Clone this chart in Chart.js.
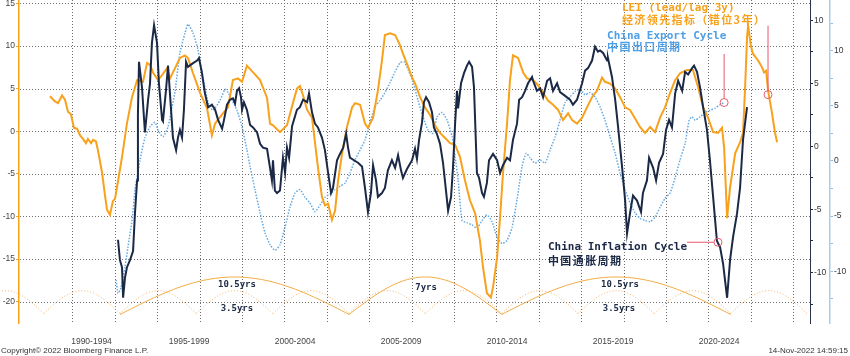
<!DOCTYPE html>
<html><head><meta charset="utf-8">
<script src="https://cdn.jsdelivr.net/npm/chart.js@4.4.0/dist/chart.umd.min.js"></script>
<style>html,body{margin:0;padding:0;background:#fff;}#wrap{width:850px;height:356px;}</style>
</head><body><div id="wrap"><canvas id="c" width="850" height="356"></canvas></div>
<script>
// ---------- DATA ----------
const leiYears = [1990.94,1991.18,1991.32,1991.51,1991.65,1991.79,1991.93,1992.07,1992.22,1992.36,1992.50,1992.64,1992.73,1992.88,1992.97,1993.11,1993.21,1993.40,1993.54,1993.63,1993.77,1993.91,1994.01,1994.10,1994.34,1994.57,1994.81,1995.05,1995.33,1995.52,1995.66,1995.80,1996.04,1996.23,1996.46,1996.60,1996.84,1997.07,1997.31,1997.45,1997.69,1998.02,1998.35,1998.58,1998.73,1999.10,1999.34,1999.57,1999.81,2000.00,2000.23,2000.52,2000.85,2001.18,2001.32,2001.46,2001.79,2002.12,2002.40,2002.59,2002.73,2002.88,2003.07,2003.30,2003.58,2003.77,2003.91,2004.06,2004.24,2004.39,2004.53,2004.72,2004.95,2005.19,2005.33,2005.57,2005.80,2005.94,2006.18,2006.41,2006.60,2006.74,2006.98,2007.22,2007.45,2007.59,2007.78,2008.02,2008.16,2008.40,2008.63,2008.87,2009.10,2009.34,2009.58,2009.81,2010.05,2010.28,2010.52,2010.75,2010.99,2011.22,2011.37,2011.55,2011.74,2011.84,2012.03,2012.17,2012.31,2012.50,2012.64,2012.78,2013.02,2013.26,2013.44,2013.73,2013.96,2014.20,2014.43,2014.67,2014.91,2015.14,2015.38,2015.57,2015.80,2016.04,2016.27,2016.51,2016.75,2016.98,2017.12,2017.36,2017.60,2017.83,2018.07,2018.30,2018.54,2018.77,2019.01,2019.25,2019.48,2019.72,2019.95,2020.19,2020.43,2020.66,2020.99,2021.27,2021.51,2021.75,2021.98,2022.22,2022.45,2022.64,2022.74,2022.88,2023.02,2023.26,2023.49,2023.63,2023.73,2023.82,2023.87,2024.01,2024.10,2024.34,2024.53,2024.62,2024.72,2024.81,2025.00,2025.14,2025.24];
const leiValues = [4.1,3.5,3.3,4.2,3.7,2.3,2.0,0.4,0.3,-0.5,-0.9,-1.4,-0.9,-1.4,-1.0,-1.2,-2.3,-4.9,-7.6,-9.2,-9.8,-8.2,-7.9,-6.6,-3.0,0.9,4.0,6.0,5.8,8.0,7.8,6.9,6.0,6.6,7.4,6.2,7.4,8.6,8.9,8.6,6.8,4.5,2.7,-0.5,0.9,2.1,2.8,6.0,6.2,5.8,7.7,6.9,6.0,3.9,0.9,0.7,-0.1,0.7,3.3,5.0,5.3,4.2,2.5,1.6,-4.2,-7.7,-8.7,-8.5,-10.4,-9.3,-5.8,-2.6,0.5,2.8,3.3,3.1,0.9,0.4,1.6,4.8,8.3,11.3,11.5,11.3,10.1,9.1,7.9,6.3,5.6,4.0,2.8,1.9,0.7,-0.2,-0.8,-1.4,-1.6,-3.0,-5.8,-8.1,-9.6,-12.8,-16.0,-19.0,-19.5,-18.3,-14.8,-10.1,-4.9,0.9,6.0,8.9,8.6,6.9,6.2,6.0,5.4,4.5,3.6,3.1,2.5,1.3,2.1,1.3,0.9,1.6,2.8,4.0,4.8,6.3,5.8,5.6,5.0,4.0,2.8,2.5,1.5,0.5,-0.2,0.5,-0.1,1.6,2.8,4.5,6.0,6.8,7.2,7.2,5.2,2.8,1.6,-0.1,-0.2,0.4,-1.9,-10.2,-6.6,-2.6,-1.3,-0.2,5.2,11.0,12.4,9.9,9.1,8.3,7.5,6.9,7.1,4.8,2.1,-0.2,-1.3];

const inflYears = [1994.15,1994.24,1994.34,1994.39,1994.48,1994.57,1994.72,1994.86,1994.95,1995.05,1995.09,1995.14,1995.28,1995.42,1995.57,1995.66,1995.75,1995.85,1995.99,1996.08,1996.23,1996.27,1996.41,1996.51,1996.60,1996.74,1996.89,1996.98,1997.07,1997.17,1997.26,1997.36,1997.45,1997.69,1997.88,1997.97,1998.11,1998.25,1998.40,1998.58,1998.73,1998.87,1999.06,1999.15,1999.29,1999.43,1999.57,1999.67,1999.76,1999.86,1999.95,2000.00,2000.09,2000.23,2000.38,2000.52,2000.71,2000.85,2000.99,2001.18,2001.32,2001.41,2001.46,2001.55,2001.65,2001.79,2001.93,2002.03,2002.12,2002.22,2002.36,2002.59,2002.73,2002.88,2003.07,2003.16,2003.30,2003.44,2003.58,2003.77,2003.91,2004.06,2004.20,2004.29,2004.48,2004.62,2004.77,2004.91,2005.00,2005.09,2005.28,2005.47,2005.66,2005.80,2005.94,2006.08,2006.18,2006.32,2006.41,2006.60,2006.74,2006.88,2007.07,2007.22,2007.36,2007.50,2007.59,2007.78,2008.02,2008.16,2008.25,2008.35,2008.49,2008.58,2008.68,2008.82,2008.96,2009.05,2009.19,2009.34,2009.48,2009.62,2009.72,2009.86,2009.95,2010.05,2010.14,2010.19,2010.33,2010.47,2010.61,2010.71,2010.85,2010.94,2011.08,2011.18,2011.32,2011.41,2011.55,2011.65,2011.84,2012.03,2012.17,2012.31,2012.50,2012.64,2012.78,2012.97,2013.07,2013.21,2013.35,2013.49,2013.68,2013.73,2013.91,2014.06,2014.20,2014.39,2014.53,2014.67,2014.86,2015.00,2015.24,2015.47,2015.61,2015.80,2016.04,2016.18,2016.32,2016.51,2016.65,2016.79,2016.89,2017.03,2017.22,2017.26,2017.45,2017.60,2017.74,2017.93,2018.07,2018.16,2018.30,2018.44,2018.63,2018.82,2018.91,2019.10,2019.20,2019.39,2019.53,2019.67,2019.86,2020.00,2020.14,2020.28,2020.43,2020.57,2020.76,2020.90,2021.04,2021.23,2021.32,2021.46,2021.60,2021.75,2021.93,2022.07,2022.22,2022.40,2022.55,2022.69,2022.88,2023.02,2023.16,2023.35,2023.49,2023.63,2023.82];
const inflValues = [-7.4,-9.0,-9.6,-12.0,-10.4,-9.6,-9.0,-8.3,-5.3,-2.7,2.6,6.7,4.7,1.1,3.7,5.0,8.2,9.6,8.2,5.0,2.1,2.0,4.4,6.4,4.2,0.7,-0.3,0.7,1.3,0.7,2.9,6.7,6.3,6.6,6.8,7.0,5.8,4.2,3.1,3.3,2.9,2.1,1.4,2.1,3.3,3.7,3.8,3.4,4.4,4.6,3.9,2.9,3.5,2.9,1.7,1.5,1.1,0.2,-0.1,-0.2,-1.7,-2.7,-1.1,-3.5,-3.7,-3.5,-0.9,-2.1,-0.1,-0.9,1.6,2.9,3.1,3.7,3.5,4.2,2.7,1.8,1.5,0.7,-0.3,-2.1,-3.7,-3.3,-1.1,-0.6,-0.1,1.0,-0.1,-0.9,-1.1,-1.3,-1.6,-3.3,-5.2,-3.7,-1.5,-2.7,-4.0,-3.7,-3.3,-1.9,-1.1,-1.7,-0.7,-1.9,-2.5,-1.8,-1.1,-0.2,-1.0,0.5,1.9,3.5,3.9,3.5,2.7,1.5,1.0,0.2,-1.3,-3.5,-5.1,-4.0,-1.7,1.8,4.4,3.0,5.0,5.8,6.4,6.7,6.3,4.7,-2.1,-2.5,-3.7,-4.0,-2.9,-1.1,-0.6,-1.1,-2.1,-1.5,-0.9,-1.1,0.5,1.8,3.7,3.9,4.4,5.0,5.5,5.2,4.4,4.6,3.9,5.2,5.4,4.4,5.0,4.3,4.0,3.7,3.3,3.7,5.0,6.0,6.2,6.8,7.9,7.5,7.6,7.4,6.8,7.0,5.5,3.7,1.5,-1.7,-4.3,-6.9,-5.3,-3.9,-4.3,-5.2,-3.7,-2.7,-0.9,-1.7,-2.7,-1.3,-0.6,1.3,2.1,1.5,4.2,5.2,4.4,5.9,5.7,6.2,6.4,5.9,4.7,3.1,1.3,-1.1,-4.0,-7.5,-8.0,-9.3,-12.0,-9.0,-7.2,-5.3,-3.3,0.5,3.1];

const expYears = [1994.06,1994.15,1994.29,1994.48,1994.62,1994.81,1994.95,1995.05,1995.19,1995.42,1995.66,1995.89,1996.04,1996.27,1996.51,1996.70,1996.84,1997.07,1997.31,1997.45,1997.69,1997.92,1998.16,1998.40,1998.63,1998.96,1999.20,1999.34,1999.53,1999.76,2000.00,2000.23,2000.38,2000.61,2000.85,2001.08,2001.32,2001.56,2001.79,2002.03,2002.26,2002.50,2002.73,2002.97,2003.20,2003.44,2003.68,2003.91,2004.15,2004.39,2004.62,2004.86,2005.09,2005.33,2005.57,2005.80,2006.04,2006.27,2006.51,2006.74,2006.98,2007.22,2007.45,2007.64,2007.83,2008.07,2008.30,2008.54,2008.77,2009.01,2009.20,2009.43,2009.67,2009.91,2010.05,2010.19,2010.38,2010.61,2010.85,2011.08,2011.32,2011.55,2011.79,2012.03,2012.26,2012.50,2012.74,2012.97,2013.21,2013.40,2013.58,2013.82,2014.06,2014.29,2014.53,2014.77,2015.00,2015.24,2015.47,2015.71,2015.94,2016.18,2016.41,2016.65,2016.89,2017.12,2017.36,2017.60,2017.83,2018.07,2018.30,2018.54,2018.77,2019.01,2019.25,2019.48,2019.72,2019.95,2020.19,2020.43,2020.66,2020.90,2021.09,2021.23,2021.37,2021.60,2021.84,2022.08,2022.31,2022.55,2022.74];
const expValues = [-10.8,-12.0,-11.5,-9.6,-7.8,-5.4,-2.6,-1.5,0.1,2.1,3.1,3.5,2.8,2.2,3.1,4.9,6.3,9.8,11.6,12.4,11.6,10.1,7.6,5.3,4.6,5.5,6.5,6.2,5.5,4.6,3.1,1.0,-0.5,-2.6,-4.7,-6.5,-7.6,-8.1,-7.6,-6.0,-4.2,-2.9,-2.6,-3.3,-3.8,-4.6,-4.0,-3.3,-3.0,-2.6,-2.3,-2.0,-1.1,0.1,1.0,1.9,3.5,4.9,5.5,6.2,7.1,8.1,8.9,9.0,8.3,7.1,5.5,4.0,2.8,2.5,4.0,4.4,3.7,2.2,0.4,-1.7,-5.4,-5.6,-5.8,-6.1,-5.4,-4.9,-5.5,-6.9,-7.5,-7.2,-6.0,-3.5,-0.5,0.7,0.3,-0.2,0.1,-0.2,1.0,2.2,3.7,5.3,5.8,6.3,6.5,6.0,6.2,5.8,4.9,3.7,2.2,0.7,-1.1,-2.6,-3.8,-4.7,-5.2,-5.4,-5.5,-5.1,-4.2,-3.4,-2.9,-1.5,0.1,1.6,3.7,4.0,3.7,4.0,4.4,4.6,4.8,5.1,5.3];

// x-axis period labels (placed at label centres, in years)
const periodTicks  = [1992.9, 1997.5, 2002.5, 2007.5, 2012.5, 2017.5, 2022.5];
const periodLabels = ['1990-1994','1995-1999','2000-2004','2005-2009','2010-2014','2015-2019','2020-2024'];

// cycle arcs (turning points, in years)
const smallCycleBreaks = [1987.05,1990.65,1994.25,1997.85,2001.45,2005.05,2008.65,2012.25,2015.85,2019.45,2023.05,2026.65];
const bigCycleBreaks   = [1994.25,2005.05,2012.25,2023.05];
const bigCycleLabels   = ['10.5yrs','7yrs','10.5yrs'];
const smallCycleLabelYears = [1999.76, 2017.78];
const smallCycleLabel = '3.5yrs';

// ---------- STYLE ----------
const ORANGE = '#f7a11c', NAVY = '#1b2946', BLUE = '#62a8e2', RED = '#e65a6e', GRID = '#6f6f6f';
const X_MIN = 1989.48, X_MAX = 2026.79;

const deco = {
  id: 'deco',
  beforeDatasetsDraw(chart) {
    const {ctx, scales, chartArea: ca} = chart;
    const xs = scales.x, yL = scales.yL;
    ctx.save();
    // dotted grid made of 1px dots, at the scales' own tick positions
    ctx.fillStyle = GRID;
    (xs.ticks || []).forEach(t => {
      const px = Math.round(xs.getPixelForValue(t.value));
      for (let y = Math.ceil(ca.top); y < ca.bottom; y += 3) ctx.fillRect(px, y, 1, 1);
    });
    (yL.ticks || []).forEach(t => {
      const py = Math.round(yL.getPixelForValue(t.value));
      for (let x = Math.ceil(ca.left) + 1; x < ca.right; x += 3) ctx.fillRect(x, py, 1, 1);
    });
    // cycle arcs
    const arc = (t0, t1, base, top) => {
      ctx.beginPath();
      for (let i = 0; i <= 60; i++) {
        const f = i / 60;
        const px = xs.getPixelForValue(t0 + (t1 - t0) * f);
        const py = yL.getPixelForValue(base + (top - base) * Math.sin(Math.PI * f));
        if (i === 0) ctx.moveTo(px, py); else ctx.lineTo(px, py);
      }
      ctx.stroke();
    };
    ctx.lineWidth = 1;
    ctx.strokeStyle = 'rgba(244,176,100,0.95)';
    ctx.setLineDash([1, 2]);
    for (let i = 0; i < smallCycleBreaks.length - 1; i++) arc(smallCycleBreaks[i], smallCycleBreaks[i + 1], -21.4, -18.7);
    ctx.setLineDash([]);
    ctx.strokeStyle = '#f2ab45';
    for (let i = 0; i < bigCycleBreaks.length - 1; i++) arc(bigCycleBreaks[i], bigCycleBreaks[i + 1], -21.5, -17.1);
    ctx.fillStyle = NAVY;
    ctx.font = 'bold 9px "DejaVu Sans Mono"';
    ctx.textAlign = 'center'; ctx.textBaseline = 'middle';
    const bigPos = [[1999.76,-18.0],[2008.68,-18.3],[2017.83,-18.0]];
    bigCycleLabels.forEach((t, i) => ctx.fillText(t, xs.getPixelForValue(bigPos[i][0]), yL.getPixelForValue(bigPos[i][1])));
    smallCycleLabelYears.forEach(yr => ctx.fillText(smallCycleLabel, xs.getPixelForValue(yr), yL.getPixelForValue(-20.8)));
    ctx.restore();
  },
  afterDatasetsDraw(chart) {
    const {ctx, scales} = chart;
    const xs = scales.x;
    ctx.save();
    ctx.strokeStyle = RED; ctx.lineWidth = 1;
    const markers = [
      {ax: 'yE', x: 2022.74, y: 5.3, toY: 9.7},
      {ax: 'yL', x: 2024.81, y: 4.3, toY: 12.4},
      {ax: 'yB', x: 2022.45, y: -7.6, toX: 2020.99}
    ];
    const r = 4;
    markers.forEach(m => {
      const ys = scales[m.ax];
      const cx = xs.getPixelForValue(m.x), cy = ys.getPixelForValue(m.y);
      ctx.beginPath(); ctx.arc(cx, cy, r, 0, Math.PI * 2); ctx.stroke();
      ctx.beginPath();
      if (m.toY !== undefined) { ctx.moveTo(cx, ys.getPixelForValue(m.toY)); ctx.lineTo(cx, cy - r); }
      else { ctx.moveTo(xs.getPixelForValue(m.toX), cy); ctx.lineTo(cx - r, cy); }
      ctx.stroke();
    });
    const yL = scales.yL;
    const texts = [
      {t: 'LEI (lead/lag 3y)', x: 2017.92, y: 14.44, c: ORANGE, cjk: false},
      {t: '经济领先指标（错位3年）', x: 2017.92, y: 13.03, c: ORANGE, cjk: true},
      {t: 'China Export Cycle', x: 2017.22, y: 11.15, c: '#4f9fe6', cjk: false},
      {t: '中国出口周期', x: 2017.22, y: 9.86, c: '#4f9fe6', cjk: true},
      {t: 'China Inflation Cycle', x: 2014.43, y: -13.6, c: NAVY, cjk: false},
      {t: '中国通胀周期', x: 2014.43, y: -15.26, c: NAVY, cjk: true}
    ];
    ctx.textAlign = 'left'; ctx.textBaseline = 'middle';
    texts.forEach(o => {
      ctx.fillStyle = o.c;
      if (o.cjk) { ctx.font = 'bold 11px "Noto Sans CJK SC"'; ctx.letterSpacing = '1.4px'; }
      else { ctx.font = 'bold 11px "DejaVu Sans Mono"'; ctx.letterSpacing = '0px'; }
      ctx.fillText(o.t, xs.getPixelForValue(o.x), yL.getPixelForValue(o.y));
    });
    ctx.letterSpacing = '0px';
    ctx.restore();
  },
  afterDraw(chart) {
    const ctx = chart.ctx;
    ctx.save();
    ctx.fillStyle = '#333';
    ctx.font = '8px "Liberation Sans"';
    ctx.textBaseline = 'middle';
    ctx.textAlign = 'left';
    ctx.fillText('Copyright© 2022 Bloomberg Finance L.P.', 1, 351);
    ctx.textAlign = 'right';
    ctx.fillText('14-Nov-2022 14:59:15', 848, 351);
    ctx.restore();
  }
};

const pts = (xs, vs) => xs.map((x, i) => ({x, y: vs[i]}));
const tickFont = {family: '"Liberation Sans"', size: 8.5};

new Chart(document.getElementById('c'), {
  type: 'line',
  data: {
    datasets: [
      {label: 'China Inflation Cycle', data: pts(inflYears, inflValues), yAxisID: 'yB', xAxisID: 'x', borderColor: NAVY, borderWidth: 2, pointRadius: 0, tension: 0},
      {label: 'LEI', data: pts(leiYears, leiValues), yAxisID: 'yL', xAxisID: 'x', borderColor: ORANGE, borderWidth: 2, pointRadius: 0, tension: 0},
      {label: 'China Export Cycle', data: pts(expYears, expValues), yAxisID: 'yE', xAxisID: 'x', borderColor: BLUE, borderWidth: 1.5, borderDash: [1.5, 1.5], pointRadius: 0, tension: 0.2}
    ]
  },
  options: {
    responsive: false, animation: false, maintainAspectRatio: false,
    layout: {padding: 0},
    plugins: {legend: {display: false}, tooltip: {enabled: false}},
    scales: {
      x: {
        type: 'linear', position: 'bottom', min: X_MIN, max: X_MAX,
        afterBuildTicks(s) { const t = []; for (let y = 1992; y <= 2026; y += 2) t.push({value: y}); s.ticks = t; },
        afterFit(s) { s.height = 0; s.paddingLeft = 0; s.paddingRight = 0; },
        ticks: {display: false},
        grid: {drawOnChartArea: false, drawTicks: false},
        border: {display: false}
      },
      x2: {
        type: 'linear', position: 'bottom', min: X_MIN, max: X_MAX,
        afterBuildTicks(s) { s.ticks = periodTicks.map(v => ({value: v})); },
        afterFit(s) { s.height = 33; s.paddingLeft = 0; s.paddingRight = 0; },
        ticks: {autoSkip: false, maxRotation: 0, padding: 14, color: '#444', font: tickFont, callback: (v, i) => periodLabels[i]},
        grid: {display: false, drawTicks: false},
        border: {display: false}
      },
      yL: {
        type: 'linear', position: 'left', min: -22.5, max: 15.4,
        afterFit(s) { s.width = 19; s.paddingTop = 0; s.paddingBottom = 0; },
        ticks: {stepSize: 5, includeBounds: false, color: '#444', font: tickFont, padding: 1},
        grid: {drawOnChartArea: false, tickColor: ORANGE, tickLength: 3},
        border: {color: ORANGE, width: 1.5}
      },
      yB: {
        type: 'linear', position: 'right', min: -14.0, max: 11.6,
        afterFit(s) { s.width = 20; s.paddingTop = 0; s.paddingBottom = 0; },
        ticks: {stepSize: 2.5, includeBounds: false, color: '#333', font: tickFont, padding: 1,
                callback: v => (Math.abs(v % 5) < 1e-9 ? String(v) : '')},
        grid: {drawOnChartArea: false, tickColor: NAVY, tickLength: 3},
        border: {color: '#2b3348', width: 1}
      },
      yE: {
        type: 'linear', position: 'right', min: -14.7, max: 14.6,
        afterFit(s) { s.width = 20; s.paddingTop = 0; s.paddingBottom = 0; },
        ticks: {stepSize: 2.5, includeBounds: false, color: '#333', font: tickFont, padding: 1,
                callback: v => (Math.abs(v % 5) < 1e-9 ? String(v) : '')},
        grid: {drawOnChartArea: false, tickColor: '#8dbbe6', tickLength: 3},
        border: {color: '#a9cbea', width: 1.5}
      }
    }
  },
  plugins: [deco]
});
</script></body></html>
